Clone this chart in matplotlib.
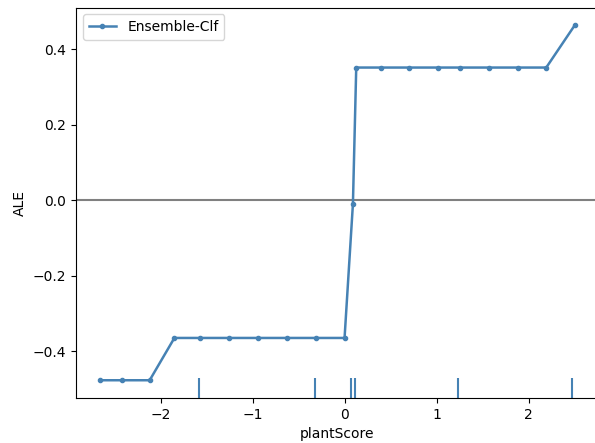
import numpy as np
import matplotlib
matplotlib.use('Agg')
import matplotlib.pyplot as plt
import matplotlib.transforms as transforms

############ data ############

feature = 'plantScore'
label = 'Ensemble-Clf'

x_vals = [-2.667, -2.43, -2.124, -1.855, -1.573, -1.261, -0.942, -0.63, -0.315,
          -0.004, 0.087, 0.123, 0.39, 0.70, 1.014, 1.253, 1.565, 1.88, 2.19, 2.5]
ale_vals = [-0.477, -0.477, -0.477, -0.365, -0.365, -0.365, -0.365, -0.365, -0.365,
            -0.365, -0.01, 0.351, 0.351, 0.351, 0.351, 0.351, 0.351, 0.351, 0.351, 0.463]
deciles = [-1.584, -0.33, 0.068, 0.112, 1.228, 2.47]

yticks = [-0.4, -0.2, 0.0, 0.2, 0.4]

############ plot ############

fig = plt.figure(figsize=(5.95, 4.43), dpi=100)
ax = fig.add_axes([76/595, 45/443, 522.5/595, 390.5/443])

ax.plot(x_vals, ale_vals, '-o', color='steelblue', markersize=3, linewidth=1.8, label=label)
ax.axhline(0, color='grey', zorder=-1)

# rug of deciles along the bottom
trans = transforms.blended_transform_factory(ax.transData, ax.transAxes)
ax.vlines(deciles, 0, 0.05, transform=trans, color='steelblue', linewidth=1.5)

ax.set_yticks(yticks)
ax.set_xlabel(feature)
ax.set_ylabel('ALE')
ax.legend(loc='upper left')

plt.savefig('out.png', dpi=100)
